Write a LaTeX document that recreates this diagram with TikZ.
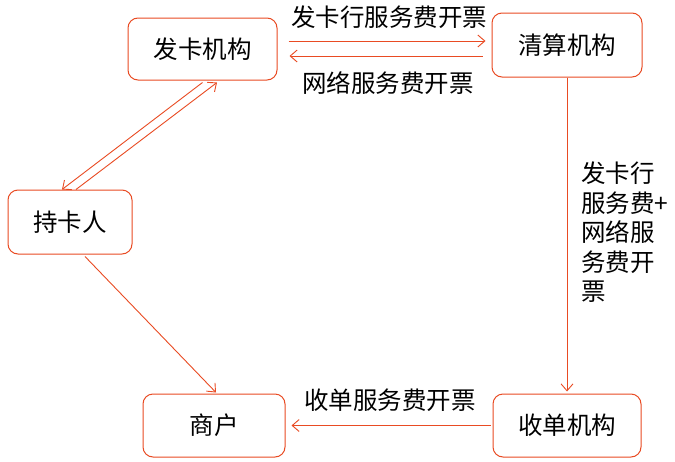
\documentclass[tikz,border=0pt]{standalone}
\usepackage{fontspec}
\setmainfont{Noto Sans CJK SC}
\usetikzlibrary{arrows.meta}
\definecolor{org}{RGB}{233,75,35}
\tikzset{
  box/.style={draw=org, line width=1pt, rounded corners=10pt, inner sep=0pt, fill=white},
  arr/.style={draw=org, line width=0.9pt, -{Straight Barb[length=7pt,width=12pt,line width=0.9pt]}},
  lbl/.style={inner sep=0pt, font=\fontsize{24.5}{29.5}\selectfont}
}
\begin{document}
\begin{tikzpicture}[x=1pt,y=-1pt]
\useasboundingbox[fill=white] (0,0) rectangle (675,461);
\node[box, lbl, minimum width=149pt, minimum height=62pt] (fk) at (202.5,49) {发卡机构};
\node[box, lbl, minimum width=150pt, minimum height=64pt] (qs) at (567,45) {清算机构};
\node[box, lbl, minimum width=124pt, minimum height=64pt] (ck) at (70,222) {持卡人};
\node[box, lbl, minimum width=142pt, minimum height=63pt] (sh) at (214,425.5) {商户};
\node[box, lbl, minimum width=148pt, minimum height=63pt] (sd) at (567,425.5) {收单机构};

\draw[arr] ([shift={(11,-8)}]fk.east) -- ([shift={(-6,-4)}]qs.west);
\draw[arr] ([shift={(-9,11)}]qs.west) -- ([shift={(12,7)}]fk.east);
\draw[arr] ([shift={(0,2)}]fk.south) -- ([shift={(-8,0)}]ck.north);
\draw[arr] ([shift={(6,0)}]ck.north) -- ([shift={(14.5,2)}]fk.south);
\draw[arr] ([shift={(15,2)}]ck.south) -- ([shift={(2,-1)}]sh.north);
\draw[arr] (qs.south) -- ([shift={(0,-2)}]sd.north);
\draw[arr] ([shift={(-2,0)}]sd.west) -- ([shift={(6,0)}]sh.east);

\node[lbl] (l1) at (389,17) {发卡行服务费开票};
\node[lbl] (l2) at (388,83) {网络服务费开票};
\node[lbl] (l3) at (390,400) {收单服务费开票};
\node[lbl, align=left, anchor=north west] (l4) at (581,162) {发卡行\\服务费+\\网络服\\务费开\\票};
\end{tikzpicture}
\end{document}
